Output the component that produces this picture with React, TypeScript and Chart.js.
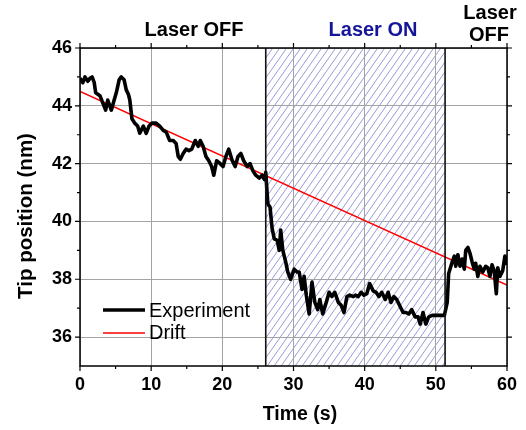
import React, { useEffect, useRef } from "react";
import { Chart, registerables } from "chart.js";

Chart.register(...registerables);

const timeS = [
  0, 0.4, 0.7, 1.1, 1.4, 1.7, 2.0, 2.2, 2.8, 3.2, 3.6, 3.9, 4.4, 4.8, 5.1, 5.5, 5.8, 6.2, 6.5, 6.8,
  7.0, 7.3, 7.7, 8.1, 8.4, 8.9, 9.3, 9.7, 10.1, 10.7, 11.2, 11.7, 12.1, 12.6, 13.1, 13.5, 13.8, 14.1,
  14.5, 14.9, 15.3, 15.7, 16.2, 16.6, 16.9, 17.3, 17.7, 18.1, 18.5, 18.8, 19.2, 19.7, 20.1, 20.5,
  20.9, 21.4, 21.8, 22.2, 22.6, 23.0, 23.5, 23.9, 24.3, 24.7, 25.2, 25.6, 25.9, 26.1, 26.4, 26.7,
  27.0, 27.3, 27.7, 28.0, 28.2, 28.5, 28.9, 29.2, 29.6, 30.1, 30.5, 30.8, 31.2, 31.5, 31.8, 32.2,
  32.6, 33.0, 33.4, 33.7, 34.1, 34.6, 35.0, 35.4, 35.8, 36.3, 36.7, 37.1, 37.5, 37.9, 38.4, 38.7,
  39.1, 39.5, 39.9, 40.3, 40.7, 41.2, 41.6, 42.0, 42.4, 42.9, 43.3, 43.7, 44.1, 44.5, 45.0, 45.4,
  45.8, 46.2, 46.6, 47.1, 47.5, 47.8, 48.2, 48.6, 49.0, 49.5, 50.0, 50.6, 51.2, 51.6, 51.8, 52.3,
  52.6, 52.8, 53.1, 53.4, 53.7, 54.0, 54.2, 54.5, 54.8, 55.1, 55.4, 55.6, 55.9, 56.2, 56.6, 57.0,
  57.3, 57.6, 57.9, 58.2, 58.5, 58.7, 59.0, 59.4, 59.7, 60.0,
];

const tipNm = [
  44.95, 44.8, 45.0, 44.85, 44.95, 45.0, 44.8, 44.45, 44.35, 44.1, 43.85, 44.2, 43.85, 44.2, 44.45,
  44.9, 45.0, 44.9, 44.55, 44.4, 44.2, 43.55, 43.4, 43.3, 43.05, 43.3, 43.05, 43.3, 43.4, 43.4, 43.3,
  43.15, 43.1, 42.8, 42.8, 42.7, 42.25, 42.15, 42.35, 42.5, 42.45, 42.5, 42.8, 42.6, 42.8, 42.6,
  42.25, 42.1, 41.9, 41.6, 42.1, 42.0, 41.9, 42.25, 42.5, 42.1, 41.9, 42.25, 42.35, 42.1, 41.9,
  42.0, 41.75, 41.6, 41.5, 41.6, 41.45, 41.7, 40.6, 40.5, 39.75, 39.4, 39.35, 39.0, 39.7, 39.0,
  38.6, 38.25, 38.0, 38.35, 38.25, 38.25, 37.65, 38.1, 37.45, 36.8, 37.9, 37.2, 36.95, 37.3, 36.8,
  37.2, 37.55, 37.4, 37.55, 37.2, 37.1, 36.85, 37.4, 37.45, 37.4, 37.45, 37.4, 37.55, 37.45, 37.5,
  37.85, 37.6, 37.55, 37.4, 37.55, 37.3, 37.55, 37.2, 37.4, 37.3, 37.05, 36.85, 36.85, 36.8, 36.95,
  36.7, 36.7, 36.45, 36.85, 36.45, 36.7, 36.75, 36.75, 36.75, 36.75, 37.2, 38.2, 38.6, 38.8, 38.45,
  38.85, 38.45, 38.7, 38.35, 39.0, 39.1, 38.9, 38.6, 38.35, 38.55, 38.1, 38.45, 38.25, 38.45, 38.4,
  38.1, 38.5, 38.3, 37.5, 38.4, 38.1, 38.3, 38.8, 38.5,
];

const driftT = [0, 60];
const driftNm = [44.5, 37.8];

const laserOnRange = [26.1, 51.3];

const xMajor = [0, 10, 20, 30, 40, 50, 60];
const xMinor = [5, 15, 25, 35, 45, 55];
const yMajor = [36, 38, 40, 42, 44, 46];
const yMinor = [37, 39, 41, 43, 45];

const FONT = "'Liberation Sans', Arial, sans-serif";

const decor = {
  id: "decor",
  beforeDraw(chart: any) {
    const { ctx, chartArea: a, scales } = chart;
    const x = scales.x;
    const x0 = x.getPixelForValue(laserOnRange[0]);
    const x1 = x.getPixelForValue(laserOnRange[1]);
    ctx.save();
    ctx.beginPath();
    ctx.rect(x0, a.top, x1 - x0, a.bottom - a.top);
    ctx.clip();
    ctx.beginPath();
    ctx.strokeStyle = "#9a9ad8";
    ctx.lineWidth = 1;
    const h = a.bottom - a.top;
    const run = h * 0.7;
    for (let k = x0 - run; k < x1 + 8; k += 7) {
      ctx.moveTo(k, a.bottom);
      ctx.lineTo(k + run, a.top);
    }
    ctx.stroke();
    ctx.restore();
  },
  afterDatasetsDraw(chart: any) {
    const { ctx, chartArea: a, scales } = chart;
    const x = scales.x;
    const y = scales.y;
    ctx.save();
    const x0 = x.getPixelForValue(laserOnRange[0]);
    const x1 = x.getPixelForValue(laserOnRange[1]);
    ctx.strokeStyle = "#111";
    ctx.lineWidth = 1.6;
    ctx.beginPath();
    ctx.moveTo(x0, a.top);
    ctx.lineTo(x0, a.bottom);
    ctx.moveTo(x1, a.top);
    ctx.lineTo(x1, a.bottom);
    ctx.stroke();

    ctx.strokeStyle = "#000";
    ctx.lineWidth = 1.5;
    ctx.strokeRect(a.left, a.top, a.right - a.left, a.bottom - a.top);

    ctx.lineWidth = 1.2;
    ctx.beginPath();
    const tick = (vals: number[], len: number) => {
      vals.forEach((v) => {
        const px = x.getPixelForValue(v);
        ctx.moveTo(px, a.bottom);
        ctx.lineTo(px, a.bottom + len);
        ctx.moveTo(px, a.top);
        ctx.lineTo(px, a.top - len);
      });
    };
    const tickY = (vals: number[], len: number) => {
      vals.forEach((v) => {
        const py = y.getPixelForValue(v);
        ctx.moveTo(a.left, py);
        ctx.lineTo(a.left - len, py);
        ctx.moveTo(a.right, py);
        ctx.lineTo(a.right + len, py);
      });
    };
    tick(xMajor, 5);
    tick(xMinor, 3);
    tickY(yMajor, 5);
    tickY(yMinor, 3);
    ctx.stroke();

    ctx.textAlign = "center";
    ctx.textBaseline = "middle";
    ctx.font = `bold 20px ${FONT}`;
    ctx.fillStyle = "#000";
    ctx.fillText("Laser OFF", 194, 30);
    ctx.fillStyle = "#15159a";
    ctx.fillText("Laser ON", 373, 30);
    ctx.fillStyle = "#000";
    ctx.fillText("Laser", 490, 13);
    ctx.fillText("OFF", 489, 35);

    ctx.font = `bold 19.5px ${FONT}`;
    ctx.fillText("Time (s)", 300, 415);
    ctx.save();
    ctx.translate(26, 216);
    ctx.rotate(-Math.PI / 2);
    ctx.font = `bold 20.5px ${FONT}`;
    ctx.fillText("Tip position (nm)", 0, 0);
    ctx.restore();

    ctx.lineCap = "butt";
    ctx.strokeStyle = "#000";
    ctx.lineWidth = 3.6;
    ctx.beginPath();
    ctx.moveTo(103, 310);
    ctx.lineTo(145, 310);
    ctx.stroke();
    ctx.strokeStyle = "#ff0000";
    ctx.lineWidth = 1.5;
    ctx.beginPath();
    ctx.moveTo(103, 333);
    ctx.lineTo(145, 333);
    ctx.stroke();
    ctx.fillStyle = "#000";
    ctx.textAlign = "left";
    ctx.font = `20px ${FONT}`;
    ctx.fillText("Experiment", 149, 311);
    ctx.fillText("Drift", 149, 333);
    ctx.restore();
  },
};

export default function App() {
  const ref = useRef<HTMLCanvasElement | null>(null);
  useEffect(() => {
    if (!ref.current) return;
    const chart = new Chart(ref.current, {
      type: "line",
      data: {
        datasets: [
          {
            label: "Experiment",
            data: timeS.map((t, i) => ({ x: t, y: tipNm[i] })),
            borderColor: "#000",
            borderWidth: 3.6,
            pointRadius: 0,
            tension: 0,
            borderJoinStyle: "round",
          },
          {
            label: "Drift",
            data: driftT.map((t, i) => ({ x: t, y: driftNm[i] })),
            borderColor: "#ff0000",
            borderWidth: 1.6,
            pointRadius: 0,
            tension: 0,
          },
        ],
      },
      options: {
        responsive: false,
        animation: false,
        devicePixelRatio: 1,
        layout: { padding: { top: 48, right: 19, left: 0, bottom: 0 } },
        plugins: { legend: { display: false }, tooltip: { enabled: false }, title: { display: false } },
        scales: {
          x: {
            type: "linear",
            min: 0,
            max: 60,
            afterFit: (s: any) => {
              s.height = 64;
            },
            afterBuildTicks: (s: any) => {
              s.ticks = xMajor.map((v) => ({ value: v }));
            },
            ticks: {
              stepSize: 10,
              padding: 8,
              color: "#000",
              font: { family: FONT, size: 18, weight: "bold" },
            },
            grid: { color: "#a3a3a3", lineWidth: 1, drawTicks: false },
            border: { display: false },
          },
          y: {
            type: "linear",
            min: 35,
            max: 46,
            afterFit: (s: any) => {
              s.width = 80;
            },
            afterBuildTicks: (s: any) => {
              s.ticks = yMajor.map((v) => ({ value: v }));
            },
            ticks: {
              stepSize: 2,
              padding: 8,
              color: "#000",
              font: { family: FONT, size: 18, weight: "bold" },
            },
            grid: { color: "#a3a3a3", lineWidth: 1, drawTicks: false },
            border: { display: false },
          },
        },
      },
      plugins: [decor],
    } as any);
    return () => chart.destroy();
  }, []);
  return (
    <div style={{ position: "absolute", left: 0, top: 0, width: 526, height: 430 }}>
      <canvas ref={ref} width={526} height={430} />
    </div>
  );
}
